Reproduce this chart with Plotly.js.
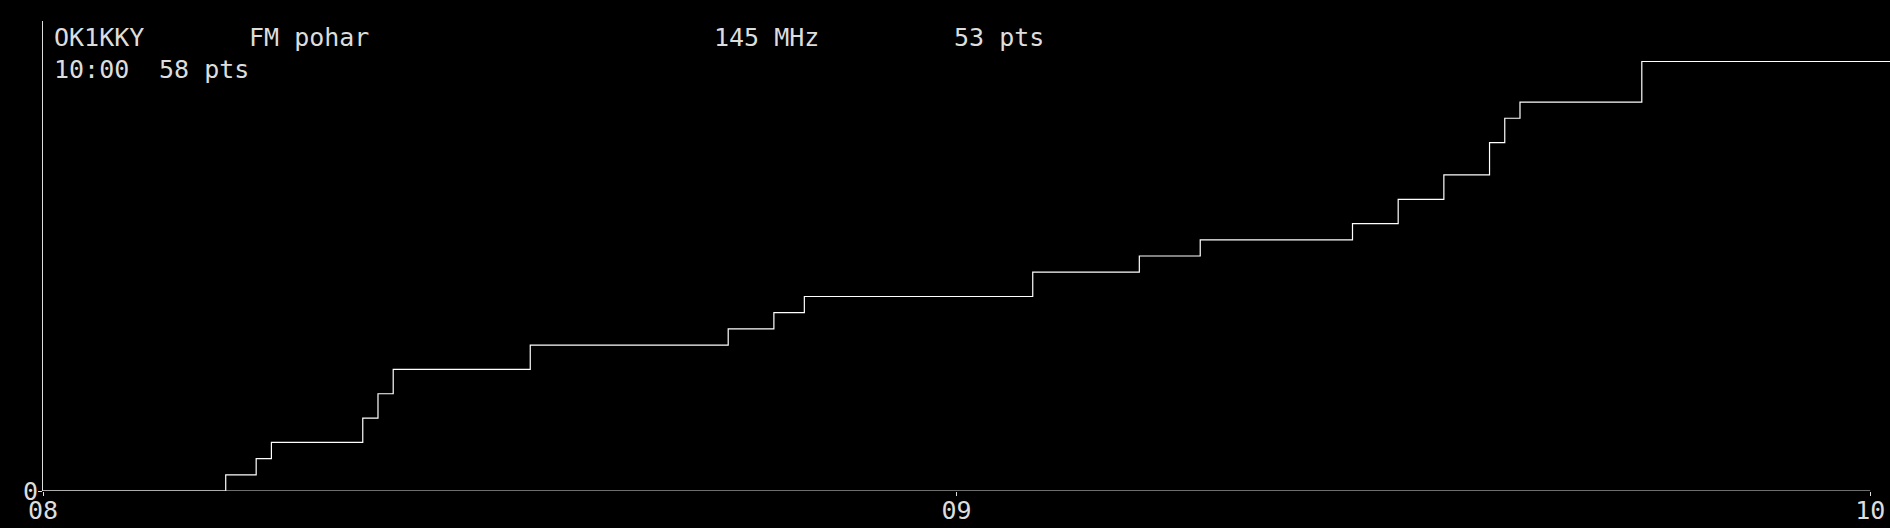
<!DOCTYPE html>
<html>
<head>
<meta charset="utf-8">
<script src="https://cdn.plot.ly/plotly-3.0.1.min.js"></script>
<style>
  html, body { margin: 0; padding: 0; background: #000; }
  #chart { width: 1890px; height: 528px; }
</style>
</head>
<body>
<div id="chart"></div>
<script>
// score over time, step line
const day = '2024-01-01 ';
const qsoTimes = ['08:00', '08:12', '08:14', '08:15', '08:21', '08:22', '08:23', '08:32',
                  '08:45', '08:48', '08:50', '09:05', '09:12', '09:16', '09:26', '09:29',
                  '09:32', '09:35', '09:36', '09:37', '09:45', '10:05'];
const qsoPoints = [0, 2, 4, 6, 9, 12, 15, 18,
                   20, 22, 24, 27, 29, 31, 33, 36,
                   39, 43, 46, 48, 53, 53];

const xTickVals = ['08:00', '09:00', '10:00'];
const xTickText = ['08', '09', '10'];

const headerRow1 = ['OK1KKY', 'FM pohar', '145 MHz', '53 pts'];
const headerRow2 = ['10:00', '58 pts'];

const W = 1890, H = 528;
const M = { l: 43, r: 0, t: 21, b: 37 };
const FONT = 'DejaVu Sans Mono, monospace';
const TXT = '#dddddd';
const CH = 15.0; // char advance at 25px

const plotW = W - M.l - M.r, plotH = H - M.t - M.b;
function px2paperX(p) { return (p - M.l) / plotW; }
function px2paperY(p) { return (H - M.b - p) / plotH; }

function headerNotes(texts, cols, yPx) {
    return texts.map(function (t, i) {
        return {
            text: t, xref: 'paper', yref: 'paper',
            x: px2paperX(52 + cols[i] * CH), y: px2paperY(yPx),
            xanchor: 'left', yanchor: 'middle', showarrow: false,
            font: { family: FONT, size: 25, color: TXT }
        };
    });
}

const annotations = headerNotes(headerRow1, [0, 13, 44, 60], 37)
    .concat(headerNotes(headerRow2, [0, 7], 69));

Plotly.newPlot('chart', [{
    x: qsoTimes.map(t => day + t),
    y: qsoPoints,
    type: 'scatter',
    mode: 'lines',
    line: { shape: 'hv', color: '#ffffff', width: 1.2 },
    hoverinfo: 'skip'
}], {
    width: W, height: H,
    margin: M,
    paper_bgcolor: '#000', plot_bgcolor: '#000',
    showlegend: false,
    font: { family: FONT, size: 25, color: TXT },
    xaxis: {
        type: 'date',
        range: [day + '08:00', day + '10:01:18'],
        tickmode: 'array', tickvals: xTickVals.map(t => day + t), ticktext: xTickText,
        ticks: 'outside', ticklen: 4, tickcolor: TXT, tickwidth: 1,
        ticklabelstandoff: -7,
        showline: false, showgrid: false, zeroline: false,
        tickfont: { family: FONT, size: 25, color: TXT }
    },
    yaxis: {
        range: [0, 58],
        tickmode: 'array', tickvals: [0], ticktext: ['0'],
        ticks: 'outside', ticklen: 4, tickcolor: TXT, tickwidth: 1,
        ticklabelstandoff: -5,
        showline: true, linecolor: TXT, linewidth: 1,
        showgrid: false, zeroline: false,
        tickfont: { family: FONT, size: 25, color: TXT }
    },
    shapes: [{
        type: 'line', xref: 'x', yref: 'y',
        x0: day + '08:00', x1: day + '10:00', y0: 0, y1: 0,
        line: { color: TXT, width: 1 }
    }],
    annotations: annotations
}, { staticPlot: true, displayModeBar: false });
</script>
</body>
</html>
